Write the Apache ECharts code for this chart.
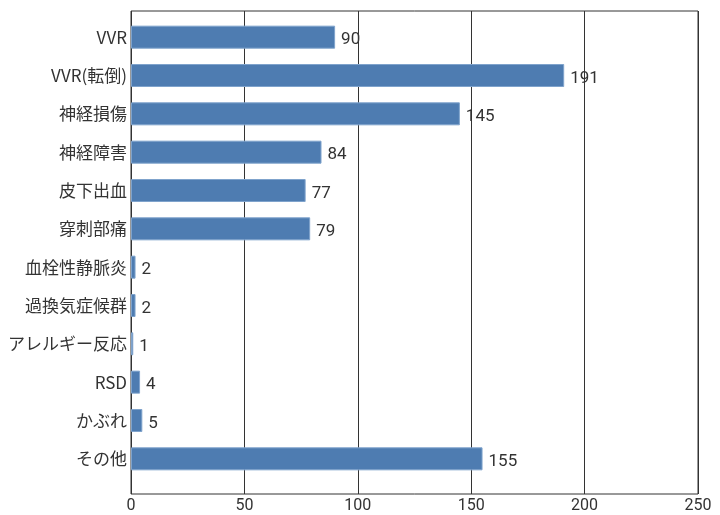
<!DOCTYPE html>
<html>
<head>
<meta charset="utf-8">
<script src="https://cdn.jsdelivr.net/npm/echarts@6/dist/echarts.min.js"></script>
<style>
  html, body { margin: 0; padding: 0; background: #fff; }
  #chart { width: 720px; height: 515px; }
</style>
</head>
<body>
<div id="chart"></div>
<script>
// Adverse event categories and counts
const categories = ['VVR', 'VVR(転倒)', '神経損傷', '神経障害', '皮下出血', '穿刺部痛',
  '血栓性静脈炎', '過換気症候群', 'アレルギー反応', 'RSD', 'かぶれ', 'その他'];
const counts = [90, 191, 145, 84, 77, 79, 2, 2, 1, 4, 5, 155];
const xTicks = [0, 50, 100, 150, 200, 250];

const numFont = '"Liberation Sans Narrow", "Roboto", sans-serif';
const jpFont = '"Noto Sans CJK JP", sans-serif';

const chart = echarts.init(document.getElementById('chart'), null, { renderer: 'canvas' });
chart.setOption({
  animation: false,
  backgroundColor: '#fff',
  grid: [
    // frame, value axis and vertical grid lines
    { left: 131, right: 22, top: 11, bottom: 21, show: true, borderColor: '#333', borderWidth: 1, backgroundColor: 'transparent' },
    // bars and category labels
    { left: 131, right: 22, top: 18, bottom: 37 }
  ],
  xAxis: [
    {
      gridIndex: 0, type: 'value', min: xTicks[0], max: xTicks[xTicks.length - 1], interval: 50,
      axisLine: { show: false }, axisTick: { show: false },
      splitLine: { show: true, lineStyle: { color: '#333', width: 1 } },
      axisLabel: { color: '#333', fontSize: 16, fontFamily: numFont, margin: 4 }
    },
    {
      gridIndex: 1, type: 'value', min: xTicks[0], max: xTicks[xTicks.length - 1], show: false
    }
  ],
  yAxis: [
    { gridIndex: 0, type: 'value', show: false },
    {
      gridIndex: 1, type: 'category', inverse: true, data: categories,
      axisLine: { show: false }, axisTick: { show: false },
      axisLabel: { color: '#333', fontSize: 17, fontFamily: jpFont, margin: 4 }
    }
  ],
  series: [{
    type: 'bar', xAxisIndex: 1, yAxisIndex: 1, data: counts,
    barWidth: 23,
    itemStyle: { color: '#4e7cb1', borderColor: '#7fa3cc', borderWidth: 1 },
    label: {
      show: true, position: 'right', distance: 6, offset: [0, 3],
      color: '#333', fontSize: 17, fontFamily: numFont
    }
  }]
});
</script>
</body>
</html>
